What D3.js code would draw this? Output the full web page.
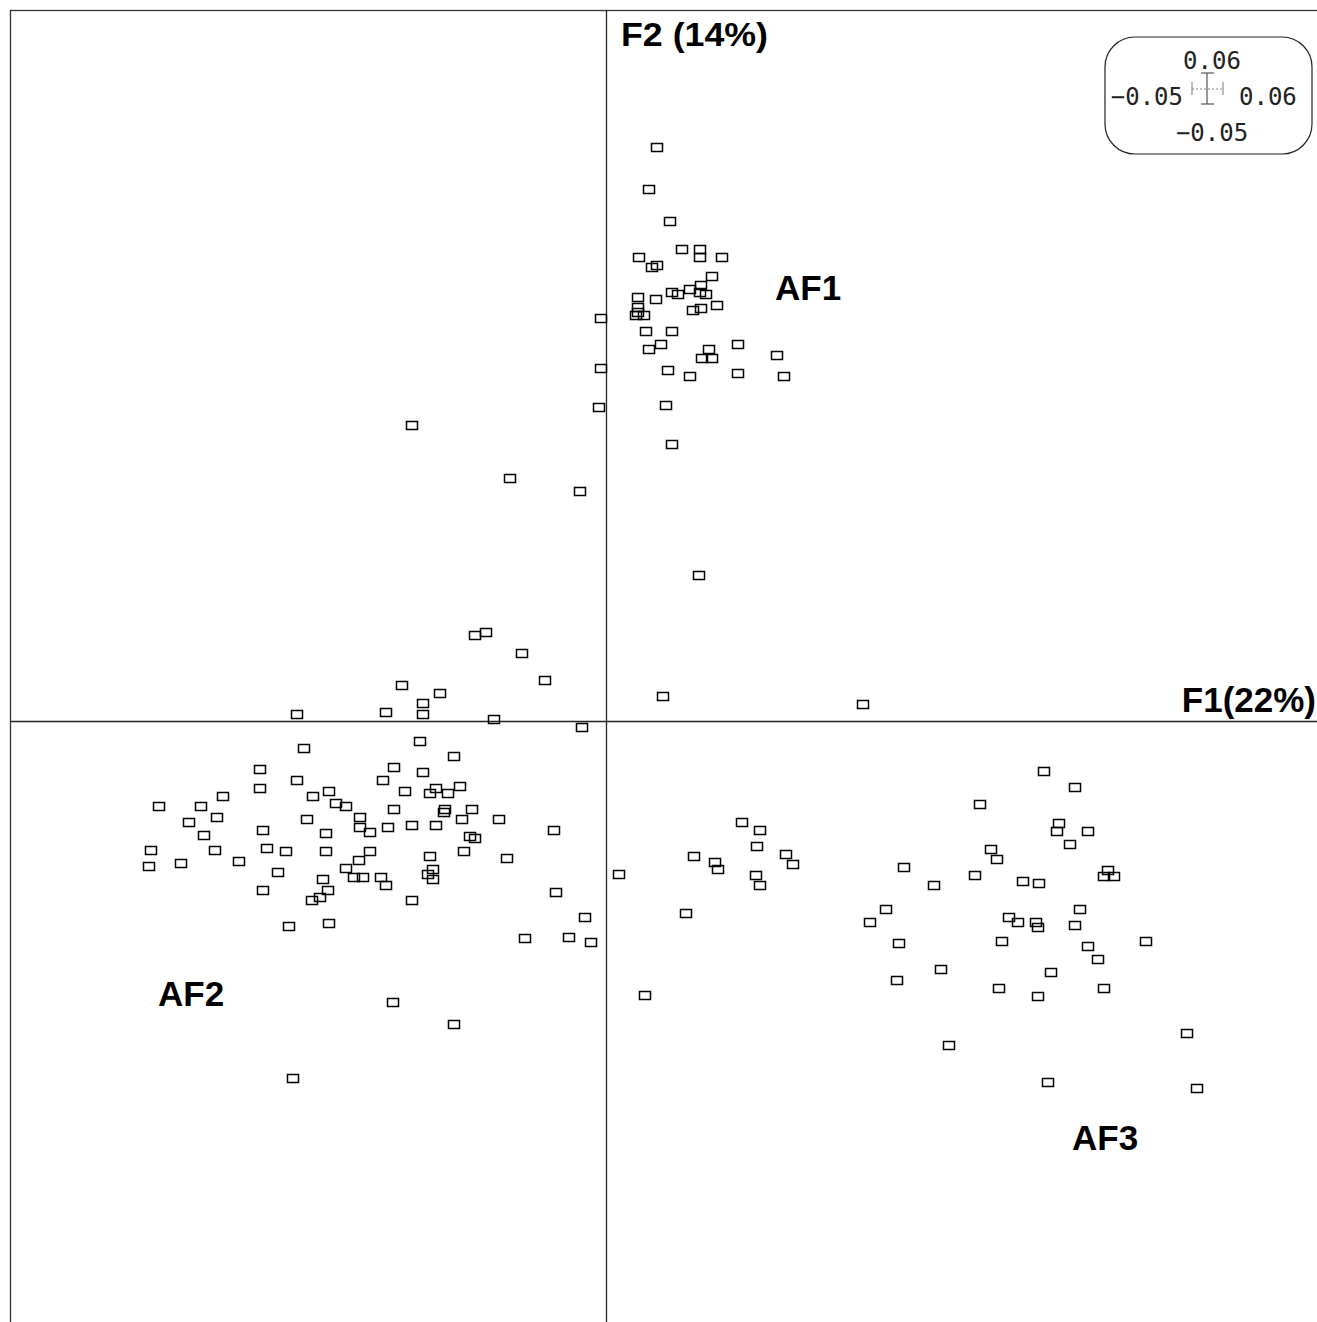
<!DOCTYPE html>
<html>
<head>
<meta charset="utf-8">
<script src="https://cdn.jsdelivr.net/npm/d3@7"></script>
<style>
  html, body { margin: 0; padding: 0; background: #fff; }
  svg { display: block; }
</style>
</head>
<body>
<script>
// factor scores [F1, F2]
var af1Points = [
  [0.049, 0.574], [0.041, 0.532], [0.062, 0.500], [0.075, 0.472], [0.093, 0.472],
  [0.093, 0.464], [0.031, 0.464], [0.114, 0.464], [0.044, 0.454], [0.049, 0.456],
  [0.104, 0.445], [0.094, 0.436], [0.082, 0.432], [0.064, 0.429], [0.070, 0.427],
  [0.093, 0.429], [0.098, 0.427], [0.030, 0.424], [0.048, 0.422], [0.109, 0.416],
  [0.085, 0.411], [0.094, 0.413], [0.030, 0.414], [0.030, 0.409], [0.028, 0.406],
  [0.036, 0.406], [-0.007, 0.403], [0.038, 0.390], [0.064, 0.390], [0.053, 0.377],
  [0.041, 0.372], [0.130, 0.377], [0.101, 0.372], [0.095, 0.363], [0.104, 0.363],
  [0.169, 0.366], [0.061, 0.351], [0.082, 0.345], [0.130, 0.348], [0.176, 0.345],
  [-0.007, 0.353], [0.059, 0.316], [-0.009, 0.314], [0.064, 0.277]
];

var scatteredPoints = [
  [-0.196, 0.296], [-0.098, 0.243], [-0.028, 0.230], [0.091, 0.146], [-0.133, 0.086],
  [-0.122, 0.089], [-0.086, 0.068], [-0.062, 0.041], [0.055, 0.025], [0.255, 0.017],
  [-0.206, 0.036], [-0.167, 0.028], [-0.185, 0.018], [-0.185, 0.007], [-0.222, 0.009],
  [-0.311, 0.007], [-0.114, 0.002], [-0.026, -0.006]
];

var af2Points = [
  [-0.188, -0.020], [-0.304, -0.027], [-0.154, -0.035], [-0.348, -0.048], [-0.214, -0.046],
  [-0.185, -0.051], [-0.311, -0.059], [-0.225, -0.059], [-0.148, -0.065], [-0.172, -0.067],
  [-0.348, -0.067], [-0.278, -0.070], [-0.203, -0.070], [-0.178, -0.072], [-0.159, -0.072],
  [-0.385, -0.075], [-0.295, -0.075], [-0.272, -0.082], [-0.261, -0.085], [-0.448, -0.085],
  [-0.406, -0.085], [-0.214, -0.088], [-0.162, -0.088], [-0.164, -0.091], [-0.136, -0.088],
  [-0.390, -0.096], [-0.301, -0.098], [-0.248, -0.096], [-0.419, -0.101], [-0.146, -0.098],
  [-0.109, -0.098], [-0.248, -0.106], [-0.238, -0.111], [-0.220, -0.106], [-0.196, -0.104],
  [-0.172, -0.104], [-0.345, -0.109], [-0.282, -0.112], [-0.054, -0.109], [-0.403, -0.114],
  [-0.138, -0.115], [-0.133, -0.117], [-0.456, -0.129], [-0.392, -0.129], [-0.340, -0.127],
  [-0.322, -0.130], [-0.282, -0.130], [-0.238, -0.130], [-0.143, -0.130], [-0.178, -0.135],
  [-0.101, -0.137], [-0.458, -0.145], [-0.427, -0.142], [-0.369, -0.140], [-0.249, -0.139],
  [-0.261, -0.147], [-0.175, -0.148], [-0.330, -0.151], [-0.180, -0.153], [-0.254, -0.156],
  [-0.245, -0.156], [-0.227, -0.156], [-0.175, -0.158], [-0.285, -0.158], [-0.222, -0.164],
  [-0.280, -0.169], [-0.345, -0.169], [-0.052, -0.171], [-0.288, -0.176], [-0.296, -0.179],
  [-0.196, -0.179], [-0.023, -0.196], [-0.278, -0.202], [-0.319, -0.205], [-0.083, -0.217],
  [-0.039, -0.216], [-0.017, -0.221], [-0.215, -0.281], [-0.154, -0.303], [-0.315, -0.357]
];

var middlePoints = [
  [0.011, -0.153], [0.037, -0.274], [0.134, -0.101], [0.152, -0.109], [0.087, -0.135],
  [0.107, -0.141], [0.110, -0.148], [0.149, -0.125], [0.178, -0.133], [0.186, -0.143],
  [0.148, -0.154], [0.152, -0.164], [0.079, -0.192]
];

var af3Points = [
  [0.436, -0.050], [0.467, -0.066], [0.372, -0.083], [0.451, -0.102], [0.449, -0.110],
  [0.480, -0.110], [0.462, -0.123], [0.383, -0.128], [0.389, -0.138], [0.296, -0.146],
  [0.367, -0.154], [0.326, -0.164], [0.415, -0.160], [0.431, -0.162], [0.501, -0.149],
  [0.496, -0.155], [0.506, -0.155], [0.278, -0.188], [0.262, -0.201], [0.401, -0.196],
  [0.410, -0.201], [0.428, -0.201], [0.430, -0.206], [0.472, -0.188], [0.467, -0.204],
  [0.291, -0.222], [0.394, -0.220], [0.480, -0.225], [0.538, -0.220], [0.490, -0.238],
  [0.333, -0.248], [0.444, -0.251], [0.289, -0.259], [0.391, -0.267], [0.430, -0.275],
  [0.496, -0.267], [0.341, -0.324], [0.440, -0.361], [0.579, -0.312], [0.589, -0.367]
];

// group names and where they sit (in factor units)
var groupLabels = [
  { name: "AF1", f1: 0.168, f2: 0.421 },
  { name: "AF2", f1: -0.449, f2: -0.285 },
  { name: "AF3", f1: 0.465, f2: -0.429 }
];

var axisTitles = ["F1(22%)", "F2 (14%)"];
var gridLegend = { yTop: "0.06", xLeft: "\u22120.05", xRight: "0.06", yBottom: "\u22120.05" };

var width = 1317;
var height = 1322;

var x = d3.scaleLinear().domain([-0.597, 0.710]).range([10, 1317]);
var y = d3.scaleLinear().domain([-0.601, 0.711]).range([1322, 10]);

var svg = d3.select("body").append("svg")
  .attr("width", width)
  .attr("height", height);

// frame (right and bottom edges fall outside the picture)
svg.append("rect")
  .attr("x", 10.5).attr("y", 10.5)
  .attr("width", width + 20).attr("height", height + 20)
  .attr("fill", "none")
  .attr("stroke", "#333")
  .attr("stroke-width", 1.3);

// factor axes through the origin
svg.append("line")
  .attr("x1", x.range()[0]).attr("x2", x.range()[1])
  .attr("y1", y(0) + 0.5).attr("y2", y(0) + 0.5)
  .attr("stroke", "#222").attr("stroke-width", 1.3);

svg.append("line")
  .attr("x1", x(0) - 0.5).attr("x2", x(0) - 0.5)
  .attr("y1", y.range()[1]).attr("y2", y.range()[0])
  .attr("stroke", "#222").attr("stroke-width", 1.3);

// all observations as small open boxes
var allPoints = [].concat(af1Points, scatteredPoints, af2Points, middlePoints, af3Points);
var boxW = 11, boxH = 8;

svg.append("g").selectAll("rect")
  .data(allPoints)
  .enter().append("rect")
  .attr("x", function(d) { return Math.round(x(d[0]) - boxW / 2) + 0.5; })
  .attr("y", function(d) { return Math.round(y(d[1]) - boxH / 2) + 0.5; })
  .attr("width", boxW)
  .attr("height", boxH)
  .attr("fill", "none")
  .attr("stroke", "#000")
  .attr("stroke-width", 1.5);

// group labels
svg.append("g").selectAll("text")
  .data(groupLabels)
  .enter().append("text")
  .attr("x", function(d) { return x(d.f1); })
  .attr("y", function(d) { return y(d.f2); })
  .attr("font-family", "Liberation Sans, Arial, sans-serif")
  .attr("font-weight", "bold")
  .attr("font-size", 35)
  .attr("fill", "#000")
  .text(function(d) { return d.name; });

// axis titles
svg.append("text")
  .attr("x", x.range()[1] - 1)
  .attr("y", y(0) - 9)
  .attr("text-anchor", "end")
  .attr("font-family", "Liberation Sans, Arial, sans-serif")
  .attr("font-weight", "bold")
  .attr("font-size", 35)
  .text(axisTitles[0]);

svg.append("text")
  .attr("x", x(0) + 14)
  .attr("y", 46)
  .attr("font-family", "Liberation Sans, Arial, sans-serif")
  .attr("font-weight", "bold")
  .attr("font-size", 33)
  .attr("textLength", 147)
  .attr("lengthAdjust", "spacingAndGlyphs")
  .text(axisTitles[1]);

// grid-size legend, top right
var lg = svg.append("g").attr("transform", "translate(1208,89)");

lg.append("rect")
  .attr("x", -103).attr("y", -52)
  .attr("width", 207).attr("height", 117)
  .attr("rx", 30).attr("ry", 30)
  .attr("fill", "#fff")
  .attr("stroke", "#222")
  .attr("stroke-width", 1.2);

var monoFont = "DejaVu Sans Mono, monospace";
var lgText = [
  { t: gridLegend.yTop, dx: 4, dy: -20, anchor: "middle" },
  { t: gridLegend.xLeft, dx: -25, dy: 16, anchor: "end" },
  { t: gridLegend.xRight, dx: 31, dy: 16, anchor: "start" },
  { t: gridLegend.yBottom, dx: 4, dy: 52, anchor: "middle" }
];

lg.selectAll("text.lg")
  .data(lgText)
  .enter().append("text")
  .attr("class", "lg")
  .attr("x", function(d) { return d.dx; })
  .attr("y", function(d) { return d.dy; })
  .attr("text-anchor", function(d) { return d.anchor; })
  .attr("font-family", monoFont)
  .attr("font-size", 24)
  .attr("fill", "#222")
  .text(function(d) { return d.t; });

// tiny cross showing one grid step
lg.append("line").attr("x1", -1).attr("x2", -1).attr("y1", -16).attr("y2", 15)
  .attr("stroke", "#555").attr("stroke-width", 1.2);
lg.append("line").attr("x1", -7).attr("x2", 6).attr("y1", -16).attr("y2", -16)
  .attr("stroke", "#555").attr("stroke-width", 1.2);
lg.append("line").attr("x1", -7).attr("x2", 6).attr("y1", 15).attr("y2", 15)
  .attr("stroke", "#555").attr("stroke-width", 1.2);
lg.append("line").attr("x1", -16).attr("x2", 15).attr("y1", 0).attr("y2", 0)
  .attr("stroke", "#888").attr("stroke-width", 1).attr("stroke-dasharray", "2,2");
lg.append("line").attr("x1", -16).attr("x2", -16).attr("y1", -7).attr("y2", 6)
  .attr("stroke", "#777").attr("stroke-width", 1);
lg.append("line").attr("x1", 15).attr("x2", 15).attr("y1", -7).attr("y2", 6)
  .attr("stroke", "#777").attr("stroke-width", 1);
</script>
</body>
</html>
